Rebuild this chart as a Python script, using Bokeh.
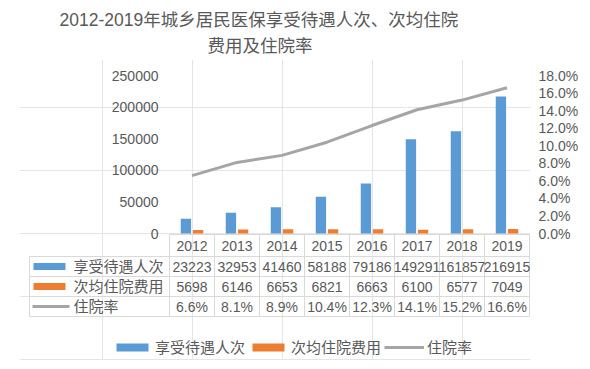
import numpy as np
from bokeh.plotting import figure
from bokeh.models import (Range1d, LinearAxis, FixedTicker, NumeralTickFormatter,
                          Legend, LegendItem, Title)
from bokeh.core.properties import value
from bokeh.embed import file_html
from bokeh.resources import INLINE

# ---------------- data ----------------
years = ["2012", "2013", "2014", "2015", "2016", "2017", "2018", "2019"]
visits = [23223, 32953, 41460, 58188, 79186, 149291, 161857, 216915]
avg_cost = [5698, 6146, 6653, 6821, 6663, 6100, 6577, 7049]
hosp_rate = [0.066, 0.081, 0.089, 0.104, 0.123, 0.141, 0.152, 0.166]
left_ticks = [0, 50000, 100000, 150000, 200000, 250000]
right_ticks = [0.0, 0.02, 0.04, 0.06, 0.08, 0.10, 0.12, 0.14, 0.16, 0.18]
series_names = ["享受待遇人次", "次均住院费用", "住院率"]
title_lines = ["2012-2019年城乡居民医保享受待遇人次、次均住院", "费用及住院率"]

# ---------------- layout / style (screen px) ----------------
M = 1  # observed canvas offset on the page
W, H = 582, 361
FR_L, FR_R, FR_T, FR_B = 20, 531, 60, 361
CAT0, CAT_W = 170, 45
Y0, Y_TOP = 234, 76
TEXT = "#595959"
GRIDC = "#D9D9D9"
BLUE, ORANGE, GRAY = "#5B9BD5", "#ED7D31", "#A5A5A5"
FONT = '"Liberation Sans", "Noto Sans CJK SC"'

n = len(years)
idx = np.arange(n)
x_start = (FR_L - CAT0) / CAT_W - 0.5
x_end = (FR_R - CAT0) / CAT_W - 0.5
span = Y0 - Y_TOP
LMAX, RMAX = left_ticks[-1], right_ticks[-1]

p = figure(width=W, height=H, output_backend="svg", toolbar_location=None,
           x_axis_location=None, y_axis_location=None,
           x_range=Range1d(x_start, x_end),
           y_range=Range1d(-(FR_B - Y0) / span * LMAX, (Y0 - FR_T) / span * LMAX),
           min_border_left=FR_L - M, min_border_right=W - (FR_R - M),
           min_border_top=FR_T - M, min_border_bottom=H - (FR_B - M),
           outline_line_color=None, border_fill_color="white",
           background_fill_color="white")
p.extra_x_ranges = {"px": Range1d(FR_L, FR_R)}
p.extra_y_ranges = {"px": Range1d(FR_B, FR_T),
                    "pct": Range1d(-(FR_B - Y0) / span * RMAX, (Y0 - FR_T) / span * RMAX)}

# titles
p.add_layout(Title(text=title_lines[1], align="left", offset=188, standoff=8,
                   text_font_size="17.5px", text_font_style="normal",
                   text_color=TEXT, text_font=FONT), "above")
p.add_layout(Title(text=title_lines[0], align="left", offset=40, standoff=0,
                   text_font_size="17.5px", text_font_style="normal",
                   text_color=TEXT, text_font=FONT), "above")

# right axis
ra = LinearAxis(y_range_name="pct", ticker=FixedTicker(ticks=right_ticks),
                formatter=NumeralTickFormatter(format="0.0%"),
                axis_line_color=None, major_tick_line_color=None,
                minor_tick_line_color=None, major_tick_out=0, major_tick_in=0,
                major_label_standoff=8, major_label_text_font_size="14px",
                major_label_text_color=TEXT, major_label_text_font=FONT)
p.add_layout(ra, "right")

# left tick labels
p.text(x=[159] * len(left_ticks), y=left_ticks, text=[str(t) for t in left_ticks],
       x_range_name="px", text_align="right", text_baseline="middle",
       text_font_size="14px", text_color=TEXT, text_font=value(FONT))

# bars and line
r_blue = p.vbar(x=idx - 0.135, top=visits, width=0.23, fill_color=BLUE, line_color=None)
r_orange = p.vbar(x=idx + 0.135, top=avg_cost, width=0.23, fill_color=ORANGE, line_color=None)
r_line = p.line(x=idx, y=hosp_rate, y_range_name="pct", line_color=GRAY, line_width=3)

# data table
row_tops = [235, 257, 277, 297, 317]
tbl_left = 30
tbl_right = CAT0 + CAT_W * n
hx0 = [CAT0] + [tbl_left] * 4
hx1 = [tbl_right] * 5
p.segment(x0=hx0, y0=row_tops, x1=hx1, y1=row_tops, x_range_name="px",
          y_range_name="px", line_color=GRIDC, line_width=1)
vx = [tbl_left] + [CAT0 + CAT_W * k for k in range(n + 1)]
vy0 = [row_tops[1]] + [row_tops[0]] * (n + 1)
p.segment(x0=vx, y0=vy0, x1=vx, y1=[row_tops[-1]] * len(vx), x_range_name="px",
          y_range_name="px", line_color=GRIDC, line_width=1)

centers = [(row_tops[i] + row_tops[i + 1]) / 2 for i in range(4)]
rows_text = [years, [str(v) for v in visits], [str(v) for v in avg_cost],
             [f"{r * 100:.1f}%" for r in hosp_rate]]
for c, txt in zip(centers, rows_text):
    p.text(x=idx, y=[c] * n, text=txt, y_range_name="px", text_align="center",
           text_baseline="middle", text_font_size="14px", text_color=TEXT,
           text_font=value(FONT))

# row headers
p.quad(left=[34, 34], right=[66, 66], top=[centers[1] - 3.5, centers[2] - 3.5],
       bottom=[centers[1] + 3.5, centers[2] + 3.5], fill_color=[BLUE, ORANGE],
       line_color=None, x_range_name="px", y_range_name="px")
p.segment(x0=[33], y0=[centers[3]], x1=[70], y1=[centers[3]], line_color=GRAY,
          line_width=3, x_range_name="px", y_range_name="px")
p.text(x=[74] * 3, y=centers[1:], text=series_names, x_range_name="px",
       y_range_name="px", text_align="left", text_baseline="middle",
       text_font_size="15px", text_color=TEXT, text_font=value(FONT))

# legend
legend = Legend(items=[LegendItem(label=series_names[0], renderers=[r_blue]),
                       LegendItem(label=series_names[1], renderers=[r_orange]),
                       LegendItem(label=series_names[2], renderers=[r_line])],
                orientation="horizontal", location=(93, 3), glyph_width=40,
                glyph_height=10, label_standoff=3, spacing=3, padding=0, margin=0,
                border_line_color=None, background_fill_alpha=0,
                label_text_font_size="15px", label_text_color=TEXT,
                label_text_font=FONT)
p.add_layout(legend)

open("out.html", "w").write(file_html(p, INLINE))
